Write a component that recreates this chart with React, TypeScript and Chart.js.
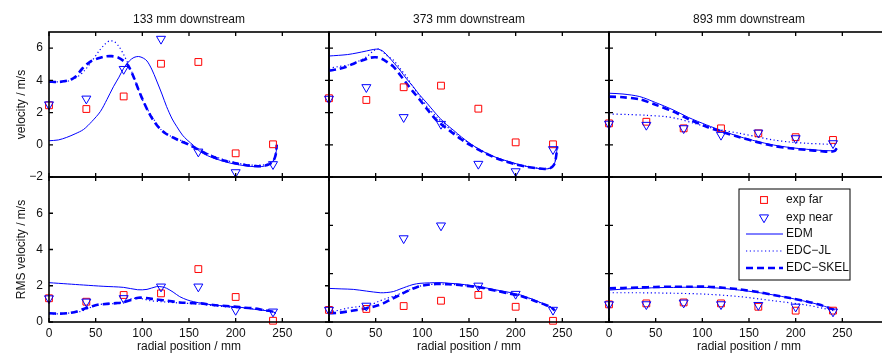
import React, { useEffect, useRef } from 'react';
import { Chart, registerables } from 'chart.js';

Chart.register(...registerables);

// ---------- texts / ticks ----------
const stations = ['133 mm downstream', '373 mm downstream', '893 mm downstream'];
const xTitle = 'radial position / mm';
const yTitles = ['velocity / m/s', 'RMS velocity / m/s'];
const legendLabels = ['exp far', 'exp near', 'EDM', 'EDC\u2212JL', 'EDC\u2212SKEL'];
const xTicks = [0, 50, 100, 150, 200, 250];
const velTicks = [-2, 0, 2, 4, 6];
const rmsTicks = [0, 2, 4, 6];

// ---------- experimental points ----------
const expX = [0, 40, 80, 120, 160, 200, 240];

const farVel133 = [2.45, 2.22, 3.0, 5.03, 5.14, -0.53, 0.03];
const nearVel133 = [2.5, 2.86, 4.7, 6.57, -0.43, -1.71, -1.21];
const farVel373 = [2.89, 2.78, 3.57, 3.67, 2.24, 0.15, 0.03];
const nearVel373 = [2.85, 3.57, 1.71, 1.29, -1.19, -1.65, -0.28];
const farVel893 = [1.33, 1.43, 1.02, 1.02, 0.71, 0.47, 0.3];
const nearVel893 = [1.3, 1.23, 1.02, 0.61, 0.75, 0.4, 0.09];

const farRms133 = [1.31, 1.12, 1.49, 1.58, 2.92, 1.38, 0.07];
const nearRms133 = [1.3, 1.12, 1.31, 1.95, 1.95, 0.66, 0.57];
const farRms373 = [0.5, 0.54, 0.66, 0.88, 1.12, 0.63, 0.05];
const nearRms373 = [0.5, 0.67, 3.46, 3.99, 1.5, 1.16, 0.5];
const farRms893 = [0.73, 0.77, 0.81, 0.77, 0.63, 0.47, 0.47];
const nearRms893 = [0.73, 0.73, 0.8, 0.73, 0.7, 0.63, 0.43];

// ---------- model curves [x, y] ----------
const edmVel133 = [[0,0.25],[10,0.3],[19,0.46],[28,0.68],[37,0.95],[46,1.45],[55,2.06],[62,2.8],[69,3.6],[75,4.2],[80,4.75],[86,5.2],[91,5.42],[96,5.48],[101,5.38],[105,5.2],[110,4.7],[115,4.02],[121,3.15],[126,2.37],[132,1.6],[137,1.12],[143,0.6],[148,0.3],[155,-0.05],[162,-0.43],[170,-0.68],[180,-0.9],[190,-1.07],[198,-1.19],[210,-1.3],[220,-1.36],[228,-1.35],[234,-1.27],[239,-1.1],[242,-0.8],[243.5,-0.4],[244,0]];
const jlVel133 = [[0,3.92],[10,3.9],[20,3.95],[30,4.2],[38,4.6],[46,5.2],[54,5.85],[60,6.25],[65,6.45],[70,6.4],[75,6.1],[80,5.6],[85,5.0],[90,4.35],[95,3.55],[100,2.8],[108,1.95],[115,1.35],[120,0.95],[130,0.55],[140,0.3],[150,0.05],[160,-0.25],[170,-0.55],[180,-0.78],[190,-0.97],[200,-1.12],[210,-1.22],[220,-1.27],[230,-1.25],[236,-1.15],[240,-1.0],[242.5,-0.6],[244,0]];
const skelVel133 = [[0,3.92],[10,3.9],[20,3.98],[28,4.2],[36,4.75],[44,5.15],[52,5.35],[60,5.48],[67,5.5],[74,5.42],[80,5.2],[85,4.9],[90,4.3],[95,3.55],[100,2.85],[106,2.1],[112,1.5],[118,1.05],[125,0.7],[133,0.45],[140,0.25],[150,0.0],[160,-0.3],[170,-0.6],[180,-0.85],[190,-1.02],[200,-1.15],[210,-1.25],[220,-1.32],[228,-1.32],[234,-1.25],[239,-1.1],[242,-0.8],[243.5,-0.4],[244,0]];

const edmVel373 = [[0,5.51],[10,5.55],[20,5.6],[30,5.7],[40,5.82],[48,5.92],[53,5.93],[58,5.8],[64,5.45],[70,5.05],[76,4.64],[83,4.1],[90,3.62],[97,3.1],[105,2.58],[112,2.1],[119,1.64],[126,1.25],[133,0.92],[142,0.48],[151,0.09],[160,-0.25],[169,-0.53],[178,-0.76],[187,-0.94],[196,-1.1],[205,-1.25],[214,-1.37],[223,-1.46],[231,-1.5],[237,-1.46],[241,-1.25],[243,-0.85],[244,-0.4],[244.5,-0.1]];
const jlVel373 = [[0,4.75],[10,4.85],[20,4.95],[30,5.15],[40,5.45],[48,5.85],[53,5.95],[58,5.75],[64,5.45],[69,5.26],[76,4.75],[83,4.23],[90,3.6],[97.5,2.99],[106,2.3],[115,1.75],[124,1.25],[133,0.81],[142,0.42],[151,0.07],[160,-0.25],[170,-0.56],[180,-0.82],[190,-1.02],[200,-1.2],[211,-1.33],[222,-1.43],[231,-1.48],[237,-1.44],[241,-1.25],[243,-0.85],[244,-0.4],[244.5,-0.1]];
const skelVel373 = [[0,4.6],[10,4.7],[19,4.85],[28,5.08],[37,5.26],[44,5.4],[50,5.43],[56,5.35],[62,5.15],[69,4.85],[76,4.35],[83,3.82],[90,3.3],[97.5,2.78],[106,2.15],[115,1.54],[124,1.1],[133,0.71],[142,0.33],[151,-0.01],[160,-0.3],[170,-0.6],[180,-0.85],[190,-1.05],[200,-1.22],[211,-1.36],[222,-1.45],[231,-1.5],[237,-1.45],[241,-1.25],[243,-0.85],[244,-0.4],[244.5,-0.1]];

const edmVel893 = [[0,3.2],[15,3.15],[33,2.99],[50,2.62],[69,2.16],[85,1.7],[104.6,1.23],[122,0.85],[140,0.5],[158,0.22],[176,-0.01],[194,-0.17],[212,-0.28],[228,-0.35],[237,-0.37],[242,-0.33],[244,-0.2]];
const jlVel893 = [[0,1.91],[20,1.88],[40,1.83],[60,1.75],[75,1.6],[90,1.35],[104.6,1.12],[122,0.9],[140,0.71],[158,0.5],[176,0.3],[194,0.17],[212,0.09],[228,0.05],[237,0.03],[242,0.05],[244,0.12]];
const skelVel893 = [[0,2.99],[15,2.95],[33,2.82],[50,2.48],[69,2.06],[85,1.6],[104.6,1.12],[122,0.78],[140,0.47],[158,0.18],[176,-0.07],[194,-0.22],[212,-0.32],[228,-0.4],[237,-0.43],[242,-0.38],[244,-0.22]];

const edmRms133 = [[0,2.17],[20,2.1],[37,2.04],[58,1.97],[80,1.91],[95,1.78],[105,1.8],[115,1.95],[121,1.94],[126,1.86],[133,1.65],[140,1.4],[148,1.22],[155,1.12],[165,1.02],[176,0.94],[190,0.88],[198,0.85],[210,0.78],[220,0.7],[230,0.64],[240,0.57],[243,0.45]];
const jlRms133 = [[0,0.44],[15,0.46],[25,0.52],[33,0.57],[42,0.75],[50,0.92],[60,1.0],[72,1.03],[82,1.15],[90,1.3],[100,1.28],[108,1.18],[120,1.12],[140,1.05],[162,0.98],[180,0.88],[200,0.8],[220,0.72],[235,0.62],[243,0.5]];
const skelRms133 = [[0,0.48],[12,0.46],[22,0.5],[30,0.58],[37,0.72],[45,0.85],[52,0.95],[62,1.0],[72,1.04],[80,1.09],[88,1.22],[96,1.34],[104,1.32],[115,1.24],[126,1.18],[140,1.08],[155,1.04],[162,1.03],[176,0.94],[190,0.88],[198,0.85],[210,0.79],[220,0.75],[230,0.66],[240,0.57],[243,0.47]];

const edmRms373 = [[0,1.39],[13,1.37],[26,1.35],[40,1.28],[55,1.21],[62,1.22],[69,1.26],[76,1.36],[83,1.46],[90,1.55],[97.5,1.6],[108,1.62],[119,1.63],[130,1.6],[140,1.57],[151,1.52],[162,1.46],[172,1.38],[183,1.3],[194,1.22],[205,1.12],[214,1.0],[222,0.88],[230,0.75],[237,0.63],[242,0.5]];
const jlRms373 = [[0,0.43],[10,0.48],[19,0.57],[30,0.63],[44,0.7],[53,0.85],[62,0.98],[70,1.08],[78,1.2],[86,1.33],[94,1.45],[104,1.53],[115,1.57],[128,1.56],[140,1.53],[151,1.48],[162,1.43],[172,1.35],[183,1.26],[194,1.17],[205,1.08],[214,0.97],[222,0.85],[230,0.74],[237,0.63],[242,0.48]];
const skelRms373 = [[0,0.36],[10,0.38],[19,0.43],[30,0.5],[40,0.57],[50,0.66],[58,0.77],[67,0.95],[76,1.12],[85,1.3],[94,1.44],[104,1.53],[115,1.57],[128,1.56],[140,1.53],[151,1.48],[162,1.43],[172,1.35],[183,1.26],[194,1.17],[205,1.08],[214,0.97],[222,0.85],[230,0.74],[237,0.63],[242,0.48]];

const edmRms893 = [[0,1.32],[15,1.36],[33,1.39],[50,1.42],[69,1.43],[87,1.44],[104.6,1.43],[122,1.39],[140,1.32],[158,1.23],[176,1.12],[194,0.99],[212,0.84],[225,0.72],[237,0.57],[242,0.5]];
const jlRms893 = [[0,1.21],[33,1.21],[69,1.19],[104.6,1.15],[140,1.05],[176,0.88],[212,0.7],[230,0.56],[242,0.46]];
const skelRms893 = [[0,1.39],[15,1.41],[33,1.43],[50,1.45],[69,1.46],[87,1.46],[104.6,1.46],[122,1.42],[140,1.35],[158,1.25],[176,1.12],[194,0.99],[212,0.85],[225,0.72],[237,0.57],[242,0.5]];

// ---------- layout / style ----------
const FONT = '"Liberation Sans", Arial, Helvetica, sans-serif';
const TEXT = '#111';
const BLUE = '#0000ff';
const RED = '#ff0000';
const CW = 900;
const CH = 358;
const COLS = [[49, 329], [329, 609], [609, 889]];
const ROWS = [[32, 177], [177, 322]];

const panels = [
  { col: 0, row: 0, yMin: -2, yMax: 7, yTicks: velTicks, far: farVel133, near: nearVel133, edm: edmVel133, jl: jlVel133, skel: skelVel133 },
  { col: 1, row: 0, yMin: -2, yMax: 7, yTicks: velTicks, far: farVel373, near: nearVel373, edm: edmVel373, jl: jlVel373, skel: skelVel373 },
  { col: 2, row: 0, yMin: -2, yMax: 7, yTicks: velTicks, far: farVel893, near: nearVel893, edm: edmVel893, jl: jlVel893, skel: skelVel893 },
  { col: 0, row: 1, yMin: 0, yMax: 8, yTicks: rmsTicks, far: farRms133, near: nearRms133, edm: edmRms133, jl: jlRms133, skel: skelRms133 },
  { col: 1, row: 1, yMin: 0, yMax: 6, yTicks: rmsTicks, far: farRms373, near: nearRms373, edm: edmRms373, jl: jlRms373, skel: skelRms373 },
  { col: 2, row: 1, yMin: 0, yMax: 6, yTicks: rmsTicks, far: farRms893, near: nearRms893, edm: edmRms893, jl: jlRms893, skel: skelRms893, legend: true },
];

const fmt = (v: number) => (v < 0 ? '\u2212' + Math.abs(v) : String(v));

const lineStyles = {
  edm: { borderWidth: 1, borderDash: [] as number[] },
  jl: { borderWidth: 1.2, borderDash: [1.2, 2.6] },
  skel: { borderWidth: 2.6, borderDash: [7, 4] },
};

const framePlugin = {
  id: 'matlabFrame',
  afterDatasetsDraw(chart: any) {
    const { ctx, chartArea: a, scales } = chart;
    const cfg = chart.options.plugins.matlabFrame;
    ctx.save();
    ctx.strokeStyle = '#000';
    ctx.lineWidth = 1.3;
    const tl = 4;
    ctx.beginPath();
    for (const v of xTicks) {
      const px = scales.x.getPixelForValue(v);
      ctx.moveTo(px, a.bottom);
      ctx.lineTo(px, a.bottom - tl);
      ctx.moveTo(px, a.top);
      ctx.lineTo(px, a.top + tl);
    }
    for (const v of cfg.yTicks) {
      const py = scales.y.getPixelForValue(v);
      ctx.moveTo(a.left, py);
      ctx.lineTo(a.left + tl, py);
      ctx.moveTo(a.right, py);
      ctx.lineTo(a.right - tl, py);
    }
    ctx.stroke();
    ctx.lineWidth = 1.6;
    ctx.strokeRect(a.left, a.top, a.right - a.left, a.bottom - a.top);

    if (cfg.legend) {
      const lx = a.left + 130;
      const ly = a.top + 12;
      const lw = 111;
      const lh = 91;
      ctx.fillStyle = '#fff';
      ctx.fillRect(lx, ly, lw, lh);
      ctx.strokeStyle = '#000';
      ctx.lineWidth = 1;
      ctx.strokeRect(lx, ly, lw, lh);
      const rowsY = [11, 28.5, 45, 62, 79];
      const mx = lx + 25;
      ctx.font = '12px ' + FONT;
      ctx.textBaseline = 'middle';
      ctx.textAlign = 'left';
      rowsY.forEach((dy, i) => {
        const y = ly + dy;
        ctx.save();
        if (i === 0) {
          ctx.strokeStyle = RED;
          ctx.lineWidth = 1;
          ctx.setLineDash([]);
          ctx.strokeRect(mx - 3.4, y - 3.4, 6.8, 6.8);
        } else if (i === 1) {
          ctx.strokeStyle = BLUE;
          ctx.lineWidth = 1;
          ctx.setLineDash([]);
          const r = 5.2;
          ctx.beginPath();
          ctx.moveTo(mx, y + r);
          ctx.lineTo(mx - r * 0.866, y - r * 0.5);
          ctx.lineTo(mx + r * 0.866, y - r * 0.5);
          ctx.closePath();
          ctx.stroke();
        } else {
          const st = i === 2 ? lineStyles.edm : i === 3 ? lineStyles.jl : lineStyles.skel;
          ctx.strokeStyle = BLUE;
          ctx.lineWidth = st.borderWidth;
          ctx.setLineDash(st.borderDash);
          ctx.beginPath();
          ctx.moveTo(lx + 7, y);
          ctx.lineTo(lx + 44, y);
          ctx.stroke();
        }
        ctx.restore();
        ctx.fillStyle = TEXT;
        ctx.fillText(legendLabels[i], lx + 47, y);
      });
    }
    ctx.restore();
  },
};

function buildConfig(p: any): any {
  const [L, R] = COLS[p.col];
  const [T, B] = ROWS[p.row];
  const yw = p.col === 0 ? L : 0;
  const xh = p.row === 1 ? CH - B : 0;
  const showX = p.row === 1;
  const showY = p.col === 0;
  const font = { family: FONT, size: 12, weight: 'normal' as const };

  const pts = (ys: number[]) => expX.map((x, i) => ({ x, y: ys[i] }));
  const curve = (c: number[][]) => c.map(([x, y]) => ({ x, y }));
  const line = (label: string, data: number[][], st: any, order: number) => ({
    label,
    data: curve(data),
    showLine: true,
    pointRadius: 0,
    borderColor: BLUE,
    backgroundColor: BLUE,
    borderWidth: st.borderWidth,
    borderDash: st.borderDash,
    tension: 0.3,
    fill: false,
    clip: false,
    order,
  });

  return {
    type: 'scatter',
    data: {
      datasets: [
        {
          label: legendLabels[0],
          data: pts(p.far),
          pointStyle: 'rect',
          pointRadius: 4.8,
          pointBorderWidth: 1,
          pointBorderColor: RED,
          pointBackgroundColor: 'rgba(0,0,0,0)',
          borderColor: RED,
          backgroundColor: 'rgba(0,0,0,0)',
          clip: false,
          order: 1,
        },
        {
          label: legendLabels[1],
          data: pts(p.near),
          pointStyle: 'triangle',
          pointRotation: 180,
          pointRadius: 5.2,
          pointBorderWidth: 1,
          pointBorderColor: BLUE,
          pointBackgroundColor: 'rgba(0,0,0,0)',
          borderColor: BLUE,
          backgroundColor: 'rgba(0,0,0,0)',
          clip: false,
          order: 0,
        },
        line(legendLabels[2], p.edm, lineStyles.edm, 4),
        line(legendLabels[3], p.jl, lineStyles.jl, 3),
        line(legendLabels[4], p.skel, lineStyles.skel, 2),
      ],
    },
    options: {
      animation: false,
      responsive: false,
      maintainAspectRatio: false,
      devicePixelRatio: 1,
      events: [],
      layout: {
        padding: {
          left: L - yw,
          right: CW - R,
          top: p.row === 0 ? 0 : T,
          bottom: CH - B - xh,
        },
      },
      plugins: {
        legend: { display: false },
        tooltip: { enabled: false },
        title: {
          display: p.row === 0,
          text: stations[p.col],
          fullSize: false,
          color: TEXT,
          font,
          padding: { top: 12, bottom: T - 12 - 14.4 },
        },
        matlabFrame: { yTicks: p.yTicks, legend: !!p.legend },
      },
      scales: {
        x: {
          type: 'linear',
          position: 'bottom',
          min: 0,
          max: 300,
          afterBuildTicks: (s: any) => {
            s.ticks = xTicks.map((v) => ({ value: v }));
          },
          afterFit: (s: any) => {
            s.height = xh;
          },
          grid: { display: false, drawTicks: false },
          border: { display: false },
          ticks: {
            display: showX,
            autoSkip: false,
            maxRotation: 0,
            padding: 4,
            color: TEXT,
            font,
            callback: (v: any) => fmt(Number(v)),
          },
          title: {
            display: showX,
            text: xTitle,
            color: TEXT,
            font,
            padding: { top: 0, bottom: 4 },
          },
        },
        y: {
          type: 'linear',
          position: 'left',
          min: p.yMin,
          max: p.yMax,
          afterBuildTicks: (s: any) => {
            s.ticks = p.yTicks.map((v: number) => ({ value: v }));
          },
          afterFit: (s: any) => {
            s.width = yw;
          },
          grid: { display: false, drawTicks: false },
          border: { display: false },
          ticks: {
            display: showY,
            autoSkip: false,
            padding: 6,
            color: TEXT,
            font,
            callback: (v: any) => fmt(Number(v)),
          },
          title: {
            display: showY,
            text: yTitles[p.row],
            color: TEXT,
            font,
            padding: { top: 14.3, bottom: 0 },
          },
        },
      },
    },
    plugins: [framePlugin],
  };
}

function Panel({ p }: { p: any }) {
  const ref = useRef<HTMLCanvasElement>(null);
  useEffect(() => {
    const chart = new Chart(ref.current as HTMLCanvasElement, buildConfig(p));
    return () => chart.destroy();
  }, [p]);
  return (
    <canvas
      ref={ref}
      width={CW}
      height={CH}
      style={{ position: 'absolute', left: 0, top: 0, width: CW, height: CH }}
    />
  );
}

export default function App() {
  return (
    <div
      style={{
        position: 'fixed',
        left: 0,
        top: 0,
        width: 882,
        height: 358,
        overflow: 'hidden',
        background: '#fff',
      }}
    >
      {panels.map((p, i) => (
        <Panel key={i} p={p} />
      ))}
    </div>
  );
}
